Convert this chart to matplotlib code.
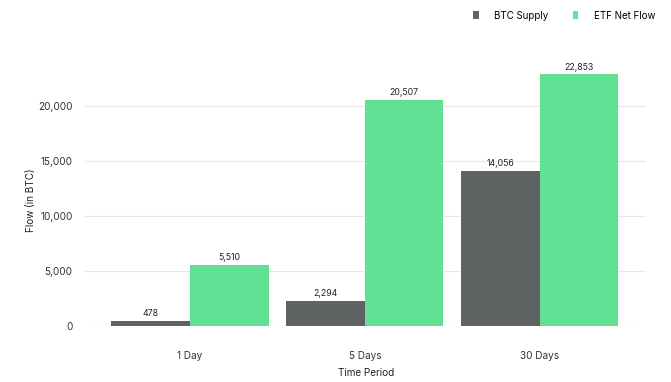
import numpy as np
import matplotlib.pyplot as plt

periods = ["1 Day", "5 Days", "30 Days"]
btc_supply = [478, 2294, 14056]
etf_flow = [5510, 20507, 22853]

plt.rcParams["font.family"] = ["Inter", "DejaVu Sans"]

fig = plt.figure(figsize=(6.71, 3.82), dpi=100)
ax = fig.add_axes([0.127, 0.147, 0.836, 0.72])

x = np.arange(len(periods))
w = 0.45
b1 = ax.bar(x - w / 2, btc_supply, w, color="#5f6263", label="BTC Supply", zorder=2)
b2 = ax.bar(x + w / 2, etf_flow, w, color="#62e094", label="ETF Net Flow", zorder=2)

for bars in (b1, b2):
    for r in bars:
        ax.text(r.get_x() + r.get_width() / 2, r.get_height() + 250, f"{int(r.get_height()):,}",
                ha="center", va="bottom", fontsize=6.3, color="#222222")

ax.set_xlim(-0.6, 2.61)
ax.set_ylim(0, 25000)
ax.set_yticks([0, 5000, 10000, 15000, 20000])
ax.set_yticklabels([f"{v:,}" for v in [0, 5000, 10000, 15000, 20000]])
ax.set_xticks(x)
ax.set_xticklabels(periods)
ax.tick_params(axis="both", length=0, labelsize=7.2, colors="#333333")
ax.tick_params(axis="x", pad=18)
ax.tick_params(axis="y", pad=9)
ax.grid(axis="y", color="#e8e8e8", linewidth=0.8, zorder=0)
for s in ax.spines.values():
    s.set_visible(False)

ax.set_xlabel("Time Period", fontsize=7.2, color="#222222", labelpad=5)
ax.set_ylabel("Flow (in BTC)", fontsize=7.2, color="#222222")
ax.yaxis.set_label_coords(-0.088, 0.457)

fig.legend(loc="upper right", bbox_to_anchor=(0.99, 0.995), ncol=2, frameon=False,
           fontsize=7, handlelength=0.6, handleheight=0.9, columnspacing=2.5, handletextpad=1.6)

fig.savefig("out.png", dpi=100)
